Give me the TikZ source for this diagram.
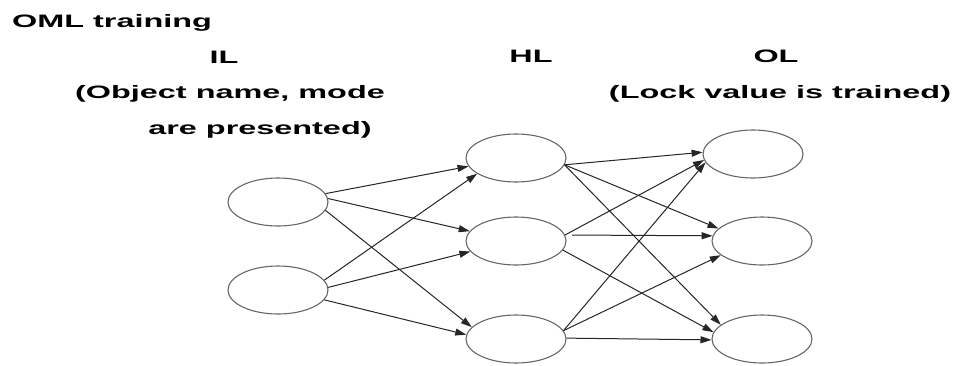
\documentclass[tikz,border=0pt]{standalone}
\usepackage{fontspec}
\newfontfamily\labelfont{Liberation Sans}[FakeStretch=1.8]
\usetikzlibrary{shapes.geometric,arrows.meta}
\begin{document}
\begin{tikzpicture}[x=1pt,y=-1pt,
  neuron/.style={ellipse, draw=black!60, line width=1.1pt,
    minimum width=100pt, minimum height=48pt, inner sep=0pt},
  caption/.style={font=\labelfont\bfseries\fontsize{18}{20}\selectfont,
    inner sep=0pt, anchor=base},
  link/.style={draw=black!85, line width=1pt,
    -{Triangle[length=11pt,width=7pt]}}]
\useasboundingbox (0,0) rectangle (957,365);

% headings
\node[caption, anchor=base west] (title) at (12,27) {OML training};
\node[caption] (ilname) at (224,63) {IL};
\node[caption] (hlname) at (531,62) {HL};
\node[caption] (olname) at (776,62) {OL};
\node[caption] (ilnote1) at (230,98) {(Object name, mode};
\node[caption] (ilnote2) at (260,134) {are presented)};
\node[caption] (olnote) at (780,98) {(Lock value is trained)};

% input layer
\node[neuron] (i1) at (278,202) {};
\node[neuron] (i2) at (278,290) {};
% hidden layer
\node[neuron] (h1) at (516,158) {};
\node[neuron] (h2) at (516,241) {};
\node[neuron] (h3) at (516,339) {};
% output layer
\node[neuron] (o1) at (753,154) {};
\node[neuron] (o2) at (762,241) {};
\node[neuron] (o3) at (762,339) {};

% input -> hidden
\draw[link] (i1.10) -- (h1.190);
\draw[link] (i1.4) -- (h2.168);
\draw[link] (i1.-10) -- (h3.165);
\draw[link] (i2.12) -- (h1.202);
\draw[link] (i2.3) -- (h2.193);
\draw[link] (i2.-12) -- (h3.175);

% hidden -> output
\draw[link] (h1.-8) -- (o1.178);
\draw[link] (h1.-8) -- (o2.164);
\draw[link] (h1.-8) -- (o3.161);
\draw[link] (h2.7) -- (o1.187);
\draw[link, shorten <=7pt] (h2.7) -- (o2.174);
\draw[link] (h2.-11) -- (o3.172);
\draw[link] (h3.10) -- (o1.190);
\draw[link] (h3.10) -- (o2.199);
\draw[link] (h3.1) -- (o3.181);
\end{tikzpicture}
\end{document}
